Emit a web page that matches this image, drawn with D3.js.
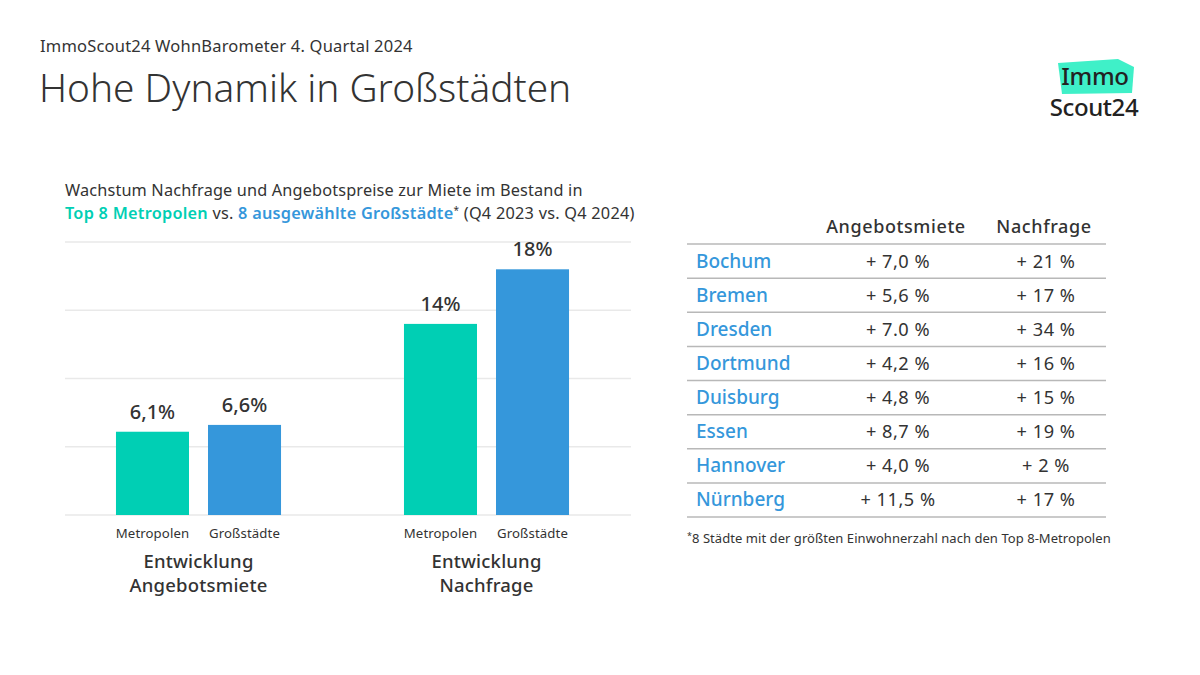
<!DOCTYPE html>
<html><head><meta charset="utf-8">
<script src="https://cdn.jsdelivr.net/npm/d3@7"></script>
<style>
html,body{margin:0;padding:0;background:#fff;}
svg{display:block;font-family:"Noto Sans",sans-serif;}
</style></head>
<body>
<svg id="chart" width="1200" height="675"></svg>
<script>
// ---- Data ----
const groups = ["Angebotsmiete", "Nachfrage"];
const groupLabels = [["Entwicklung", "Angebotsmiete"], ["Entwicklung", "Nachfrage"]];
const seriesNames = ["Metropolen", "Großstädte"];
const metropolenValues = [6.1, 14];
const grossstaedteValues = [6.6, 18];
const metropolenLabels = ["6,1%", "14%"];
const grossstaedteLabels = ["6,6%", "18%"];
const yTicks = [0, 5, 10, 15, 20];

const tableHeaders = ["Angebotsmiete", "Nachfrage"];
const cities = ["Bochum", "Bremen", "Dresden", "Dortmund", "Duisburg", "Essen", "Hannover", "Nürnberg"];
const angebotsmieteText = ["+ 7,0 %", "+ 5,6 %", "+ 7.0 %", "+ 4,2 %", "+ 4,8 %", "+ 8,7 %", "+ 4,0 %", "+ 11,5 %"];
const nachfrageText = ["+ 21 %", "+ 17 %", "+ 34 %", "+ 16 %", "+ 15 %", "+ 19 %", "+ 2 %", "+ 17 %"];

const TEAL = "#00cfb4", BLUE = "#3597db", DARK = "#333333";

const svg = d3.select("#chart");

// ---- Header ----
svg.append("text").attr("x", 40).attr("y", 52).attr("font-size", 16.5).attr("letter-spacing", 0.2).attr("fill", DARK)
  .text("ImmoScout24 WohnBarometer 4. Quartal 2024");
svg.append("text").attr("x", 39).attr("y", 102).attr("font-size", 38.8).attr("font-weight", 300).attr("fill", DARK)
  .text("Hohe Dynamik in Großstädten");

// Logo
const logo = svg.append("g");
logo.append("path").attr("d", "M1058,63 L1118,59 L1134,67 L1132,93 L1062,94 Z").attr("fill", "#3ff0c8");
logo.append("text").attr("x", 1095).attr("y", 85).attr("text-anchor", "middle").attr("font-size", 24)
  .attr("font-weight", 500).attr("letter-spacing", -0.3).attr("fill", "#222").text("Immo");
logo.append("text").attr("x", 1094).attr("y", 116).attr("text-anchor", "middle").attr("font-size", 24)
  .attr("font-weight", 500).attr("fill", "#222").attr("letter-spacing", -0.4).text("Scout24");

// ---- Subtitle ----
svg.append("text").attr("x", 65).attr("y", 196).attr("font-size", 16.3).attr("letter-spacing", 0.15).attr("fill", DARK)
  .text("Wachstum Nachfrage und Angebotspreise zur Miete im Bestand in");
const sub2 = svg.append("text").attr("x", 65).attr("y", 219).attr("font-size", 16.3).attr("letter-spacing", 0.25).attr("fill", DARK);
sub2.append("tspan").attr("fill", TEAL).attr("font-weight", 600).text("Top 8 Metropolen");
sub2.append("tspan").text(" vs. ");
sub2.append("tspan").attr("fill", BLUE).attr("font-weight", 600).text("8 ausgewählte Großstädte");
sub2.append("tspan").attr("font-size", 10).attr("dy", -5).text("*");
sub2.append("tspan").attr("dy", 5).text(" (Q4 2023 vs. Q4 2024)");

// ---- Bar chart ----
const y = d3.scaleLinear().domain([0, 20]).range([515, 242]);
const x0 = d3.scaleBand().domain(groups).range([54.5, 630.5]).padding(0);
const x1 = d3.scaleBand().domain(seriesNames).range([0, x0.bandwidth()]).paddingInner(0.2065).paddingOuter(0.668);

svg.append("g").selectAll("line").data(yTicks).join("line")
  .attr("x1", 65).attr("x2", 631)
  .attr("y1", d => y(d)).attr("y2", d => y(d))
  .attr("stroke", "#e9e9e9").attr("stroke-width", 1.5);

const barData = groups.flatMap((g, i) => [
  {g, s: seriesNames[0], v: metropolenValues[i], label: metropolenLabels[i], color: TEAL},
  {g, s: seriesNames[1], v: grossstaedteValues[i], label: grossstaedteLabels[i], color: BLUE}
]);

const bars = svg.append("g");
bars.selectAll("rect").data(barData).join("rect")
  .attr("x", d => x0(d.g) + x1(d.s)).attr("width", x1.bandwidth())
  .attr("y", d => y(d.v)).attr("height", d => y(0) - y(d.v))
  .attr("fill", d => d.color);

bars.selectAll("text.val").data(barData).join("text").attr("class", "val")
  .attr("x", d => x0(d.g) + x1(d.s) + x1.bandwidth() / 2)
  .attr("y", d => y(d.v) - 13)
  .attr("text-anchor", "middle").attr("font-size", 20).attr("font-weight", 500).attr("fill", DARK)
  .text(d => d.label);

bars.selectAll("text.cat").data(barData).join("text").attr("class", "cat")
  .attr("x", d => x0(d.g) + x1(d.s) + x1.bandwidth() / 2)
  .attr("y", 538)
  .attr("text-anchor", "middle").attr("font-size", 13.2).attr("letter-spacing", 0.1).attr("fill", DARK)
  .text(d => d.s);

groups.forEach((g, i) => {
  const cx = x0(g) + x0.bandwidth() / 2;
  const t = svg.append("text").attr("x", cx).attr("y", 568)
    .attr("text-anchor", "middle").attr("font-size", 18.5).attr("letter-spacing", 0.2).attr("font-weight", 500).attr("fill", DARK);
  groupLabels[i].forEach((line, j) => {
    t.append("tspan").attr("x", cx).attr("dy", j === 0 ? 0 : 24).text(line);
  });
});

// ---- Table ----
const tbl = svg.append("g");
const rowY = d3.scaleBand().domain(cities).range([244, 517]).padding(0);
const colX = [896, 1044];

tableHeaders.forEach((h, i) => {
  tbl.append("text").attr("x", colX[i]).attr("y", 233).attr("text-anchor", "middle")
    .attr("font-size", 18).attr("letter-spacing", 0.6).attr("font-weight", 500).attr("fill", DARK).text(h);
});

const lineYs = [244].concat(cities.map(c => rowY(c) + rowY.bandwidth()));
tbl.selectAll("line").data(lineYs).join("line")
  .attr("x1", 687).attr("x2", 1106).attr("y1", d => d).attr("y2", d => d)
  .attr("stroke", "#b8b8b8").attr("stroke-width", 1.5);

cities.forEach((c, i) => {
  const cy = rowY(c) + rowY.bandwidth() / 2 + 6.5;
  tbl.append("text").attr("x", 696).attr("y", cy).attr("font-size", 19).attr("font-weight", 500)
    .attr("fill", BLUE).text(c);
  tbl.append("text").attr("x", colX[0] + 2).attr("y", cy).attr("text-anchor", "middle")
    .attr("font-size", 18.2).attr("letter-spacing", 0.5).attr("fill", DARK).text(angebotsmieteText[i]);
  tbl.append("text").attr("x", colX[1] + 2).attr("y", cy).attr("text-anchor", "middle")
    .attr("font-size", 18.2).attr("letter-spacing", 0.5).attr("fill", DARK).text(nachfrageText[i]);
});

// Footnote
const fn = svg.append("text").attr("x", 687).attr("y", 543).attr("font-size", 13).attr("letter-spacing", 0.05).attr("fill", DARK);
fn.append("tspan").attr("font-size", 9).attr("dy", -4).text("*");
fn.append("tspan").attr("dy", 4).text("8 Städte mit der größten Einwohnerzahl nach den Top 8-Metropolen");
</script>
</body></html>
